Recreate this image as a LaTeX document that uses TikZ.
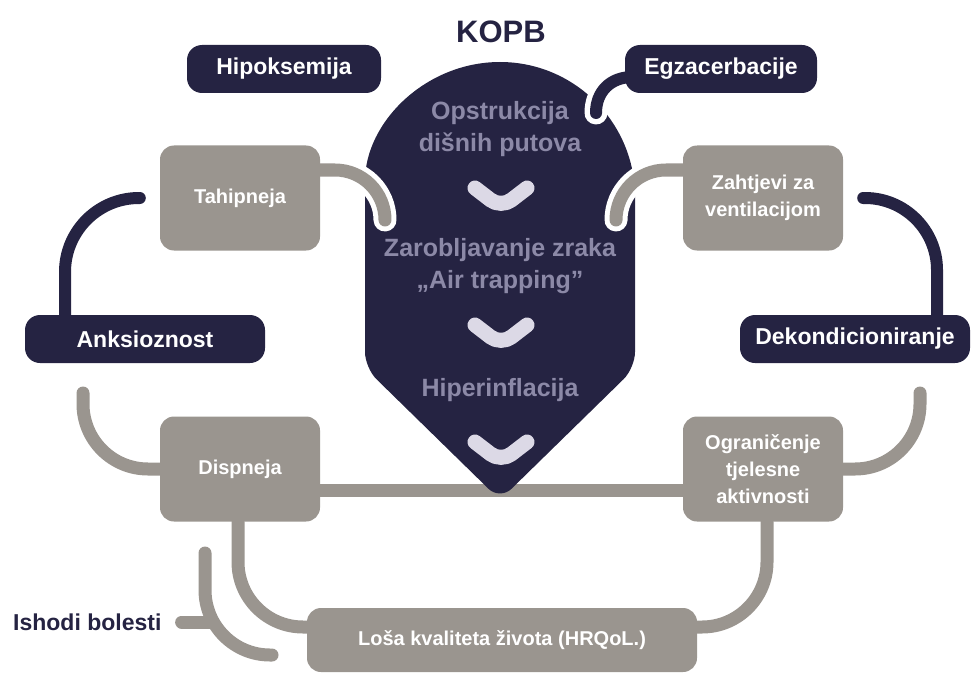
\documentclass[tikz,border=0pt]{standalone}
\usepackage{fontspec}
\setmainfont{Liberation Sans}
\usetikzlibrary{calc}
\pgfdeclarelayer{back}
\pgfdeclarelayer{mid}
\pgfsetlayers{back,mid,main}
\definecolor{navy}{HTML}{252342}
\definecolor{stone}{HTML}{9A958F}
\definecolor{lav}{HTML}{8C89A7}
\definecolor{chev}{HTML}{DCD9E6}
\begin{document}
\begin{tikzpicture}[x=1pt,y=-1pt,
  navybox/.style={fill=navy, rounded corners=15pt, text=white, font=\fontsize{23}{28}\selectfont\bfseries, inner sep=0pt, minimum height=48pt},
  graybox/.style={fill=stone, rounded corners=14pt, text=white, font=\fontsize{20}{27}\selectfont\bfseries, align=center, minimum width=160pt, minimum height=105pt, inner sep=0pt},
  ctext/.style={text=lav, font=\fontsize{25}{32}\selectfont\bfseries, align=center, inner sep=0pt},
  nvline/.style={draw=navy, line width=12pt, line cap=round},
  gyline/.style={draw=stone, line width=13pt, line cap=round},
  halo/.style={draw=white, line width=23pt, line cap=round},
  chevron/.style={draw=chev, line width=15pt, line cap=round, line join=round, rounded corners=13pt}]
\useasboundingbox (0,0) rectangle (973,679);

% boxes
\node[navybox, minimum width=194pt] (hip) at (284,69) {Hipoksemija};
\node[navybox, minimum width=192pt] (egz) at (721,69) {Egzacerbacije};
\node[navybox, minimum width=240pt] (ank) at (145,339) {Anksioznost};
\node[navybox, minimum width=230pt] (dek) at (855,339) {Dekondicioniranje};
\node[graybox] (tah) at (240,198) {Tahipneja};
\node[graybox] (zah) at (763,198) {Zahtjevi za\\ventilacijom};
\node[graybox] (dis) at (240,469) {Dispneja};
\node[graybox] (ogr) at (763,469) {Ograničenje\\tjelesne\\aktivnosti};
\node[graybox, minimum width=390pt, minimum height=64pt] (los) at (502,640) {Loša kvaliteta života (HRQoL.)};
\node[text=navy, font=\fontsize{31}{36}\selectfont\bfseries, inner sep=0pt] (kopb) at (501,32) {KOPB};
\node[text=navy, font=\fontsize{23}{28}\selectfont\bfseries, anchor=west, inner sep=0pt] (ish) at (13,622) {Ishodi bolesti};

% central texts
\node[ctext] (c1) at (500,129) {Opstrukcija\\dišnih putova};
\node[ctext] (c2) at (500,266) {Zarobljavanje zraka\\„Air trapping”};
\node[ctext] (c3) at (500,390) {Hiperinflacija};

% chevrons
\draw[chevron] (475,188) -- (501,208) -- (527,188);
\draw[chevron] (475,325) -- (501,345) -- (527,325);
\draw[chevron] (475,442) -- (501,462) -- (527,442);

\begin{pgfonlayer}{back}
\draw[gyline] ([yshift=-21pt]dis.east) -- ([yshift=-21pt]ogr.west);
\fill[navy] (365,197) .. controls (365,122.4) and (425.6,62) .. (500,62)
  .. controls (574.4,62) and (635,122.4) .. (635,197)
  [rounded corners=16pt] -- (635,368) -- (500,500) -- (365,368) -- cycle;
\end{pgfonlayer}

\begin{pgfonlayer}{mid}
\coordinate (tahEnd) at (385,220);
\coordinate (zahEnd) at (616,220);
\coordinate (egzEnd) at (596,113);
\coordinate (ankLow) at (83,393);
\coordinate (dekLow) at (920,393);
\coordinate (brTop) at (205,553);
\coordinate (brEnd) at (272,655);

\draw[halo, rounded corners=50pt] ([yshift=28pt]tah.east) -| (tahEnd);
\draw[gyline, rounded corners=50pt] ([yshift=28pt]tah.east) -| (tahEnd);
\draw[halo, rounded corners=50pt] ([yshift=28pt]zah.west) -| (zahEnd);
\draw[gyline, rounded corners=50pt] ([yshift=28pt]zah.west) -| (zahEnd);
\draw[halo] ([xshift=8pt,yshift=-8pt]egz.west) .. controls (610,77) and (596,92) .. (egzEnd);
\draw[nvline] ([xshift=8pt,yshift=-8pt]egz.west) .. controls (610,77) and (596,92) .. (egzEnd);

\draw[nvline, rounded corners=74pt] ([xshift=-20pt]tah.west) -| ([xshift=-80pt]ank.north);
\draw[nvline, rounded corners=72pt] ([xshift=20pt]zah.east) -| ([xshift=82pt]dek.north);

\draw[gyline, rounded corners=65pt] (ankLow) |- (dis.west);
\draw[gyline, rounded corners=65pt] (dekLow) |- (ogr.east);
\draw[gyline, rounded corners=65pt] ([xshift=-2pt]dis.south) |- ([yshift=13pt]los.west);
\draw[gyline, rounded corners=65pt] ([xshift=4pt]ogr.south) |- ([yshift=13pt]los.east);
\draw[gyline, rounded corners=65pt] (brTop) |- (brEnd);
\draw[gyline] ([xshift=20pt]ish.east) -- +(28,0);
\end{pgfonlayer}
\end{tikzpicture}
\end{document}
